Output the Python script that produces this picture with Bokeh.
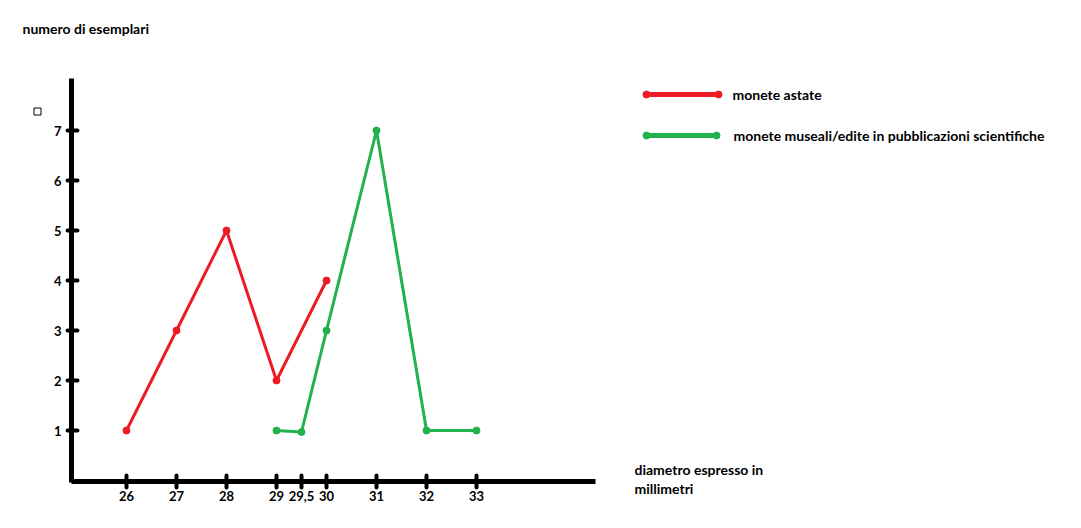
from bokeh.plotting import figure
from bokeh.models import LinearAxis, FixedTicker, Range1d, Label
from bokeh.embed import file_html
from bokeh.resources import INLINE

# ---- data ----
red_x = [26, 27, 28, 29, 30]
red_y = [1, 3, 5, 2, 4]
green_x = [29, 29.5, 30, 31, 32, 33]
green_y = [1, 0.97, 3, 7, 1, 1]
x_ticks = [26, 27, 28, 29, 29.5, 30, 31, 32, 33]
x_tick_labels = ["26", "27", "28", "29", "29,5", "30", "31", "32", "33"]
y_ticks = [1, 2, 3, 4, 5, 6, 7]
y_tick_labels = ["1", "2", "3", "4", "5", "6", "7"]
series_names = ["monete astate", "monete museali/edite in pubblicazioni scientifiche"]
y_title = "numero di esemplari"
x_title = ["diametro espresso in", "millimetri"]

RED = "#ED1C24"
GREEN = "#22B14C"
FONT = "Lato"
FS = "14px"

W, H = 1065, 512
OFF = 0  # observed page offset of the canvas
PX = 50.0  # pixels per unit
X0 = 26 - (126 - OFF) / PX
Y0 = -(H - (480 - OFF)) / PX

def sx(page_x):
    return X0 + (page_x - OFF) / PX

def sy(page_y):
    return Y0 + (H - (page_y - OFF)) / PX

p = figure(width=W, height=H, output_backend="svg", toolbar_location=None,
           x_range=Range1d(X0, X0 + W / PX), y_range=Range1d(Y0, Y0 + H / PX),
           x_axis_type=None, y_axis_type=None,
           min_border=0, outline_line_color=None)
p.xgrid.visible = False
p.ygrid.visible = False
p.background_fill_color = "white"

xa = LinearAxis(fixed_location=sy(481), bounds=(sx(71), sx(595)),
                ticker=FixedTicker(ticks=x_ticks, minor_ticks=[]))
xa.major_label_overrides = {t: l for t, l in zip(x_ticks, x_tick_labels)}
xa.axis_line_width = 5
xa.axis_line_color = "black"
xa.major_tick_line_width = 4
xa.major_tick_line_cap = "round"
xa.major_tick_in = 6
xa.major_tick_out = 6
xa.minor_tick_line_color = None
xa.major_label_text_font = FONT
xa.major_label_text_font_style = "bold"
xa.major_label_text_font_size = "13px"
xa.major_label_text_color = "black"
xa.major_label_standoff = 3
p.add_layout(xa, "below")

ya = LinearAxis(fixed_location=sx(71), bounds=(sy(482), sy(78)),
                ticker=FixedTicker(ticks=y_ticks, minor_ticks=[]))
ya.major_label_overrides = {t: l for t, l in zip(y_ticks, y_tick_labels)}
ya.axis_line_width = 5
ya.axis_line_color = "black"
ya.major_tick_line_width = 4
ya.major_tick_line_cap = "round"
ya.major_tick_in = 6
ya.major_tick_out = 4
ya.minor_tick_line_color = None
ya.major_label_text_font = FONT
ya.major_label_text_font_style = "bold"
ya.major_label_text_font_size = "13px"
ya.major_label_text_color = "black"
ya.major_label_standoff = 6
ya.major_label_orientation = "horizontal"
p.add_layout(ya, "left")

# series
p.line(red_x, red_y, line_color=RED, line_width=3)
p.scatter(red_x, red_y, size=7, fill_color=RED, line_color=RED)
p.line(green_x, green_y, line_color=GREEN, line_width=3)
p.scatter(green_x, green_y, size=7, fill_color=GREEN, line_color=GREEN)

# legend (hand drawn style)
for (y_px, x_end, col, name, tx) in [(94, 718, RED, series_names[0], 732),
                                     (135, 716, GREEN, series_names[1], 733)]:
    p.line([sx(646), sx(x_end)], [sy(y_px), sy(y_px)], line_color=col, line_width=5)
    p.scatter([sx(646), sx(x_end)], [sy(y_px), sy(y_px)], size=7, fill_color=col, line_color=col)
    p.add_layout(Label(x=sx(tx), y=sy(y_px), text=name, text_font=FONT, text_font_style="bold",
                       text_font_size=FS, text_baseline="middle", text_color="black"))

p.add_layout(Label(x=sx(22), y=sy(28), text=y_title, text_font=FONT, text_font_style="bold",
                   text_font_size=FS, text_baseline="middle", text_color="black"))
p.add_layout(Label(x=sx(634), y=sy(469), text=x_title[0], text_font=FONT, text_font_style="bold",
                   text_font_size=FS, text_baseline="middle", text_color="black"))
p.add_layout(Label(x=sx(634), y=sy(488), text=x_title[1], text_font=FONT, text_font_style="bold",
                   text_font_size=FS, text_baseline="middle", text_color="black"))

# small stray square
p.scatter([sx(37)], [sy(111)], marker="square", size=7, fill_color=None, line_color="black", line_width=1)

open("out.html", "w").write(file_html(p, INLINE))
